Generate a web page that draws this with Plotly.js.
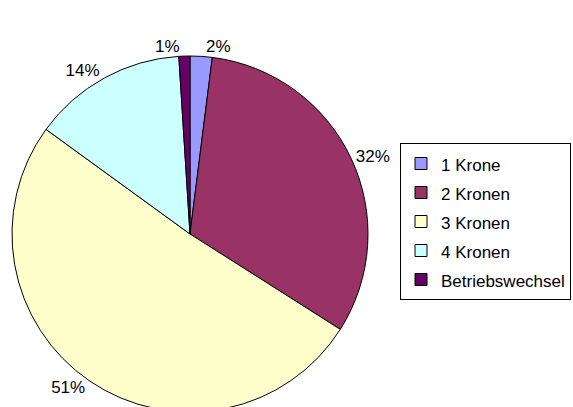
<!DOCTYPE html>
<html>
<head>
<meta charset="utf-8">
<script src="https://cdn.plot.ly/plotly-3.0.1.min.js"></script>
<style>
html,body{margin:0;padding:0;overflow:hidden;background:#fff;}
#chart{width:573px;height:430px;}
</style>
</head>
<body>
<div id="chart"></div>
<script>
const categories = ["1 Krone", "2 Kronen", "3 Kronen", "4 Kronen", "Betriebswechsel"];
const shares = [2, 32, 51, 14, 1];
const sliceColors = ["#9999FF", "#993366", "#FFFFCC", "#CCFFFF", "#660066"];

const W = 573, H = 430;
const legendLabels = categories.map(c => '<span style="font-size:17px">' + c + '</span>');

const trace = {
  type: 'pie',
  labels: legendLabels,
  values: shares,
  sort: false,
  direction: 'clockwise',
  rotation: 0,
  marker: {colors: sliceColors, line: {color: '#000', width: 1}},
  textposition: 'outside',
  texttemplate: '%{percent:.0%}',
  textfont: {family: 'Liberation Sans, Arial, sans-serif', size: 17, color: '#000'},
  outsidetextfont: {family: 'Liberation Sans, Arial, sans-serif', size: 17, color: '#000'},
  hoverinfo: 'none',
  domain: {x: [12 / W, 368 / W], y: [1 - 412 / H, 1 - 56 / H]}
};

const layout = {
  width: W, height: H,
  margin: {l: 0, r: 0, t: 0, b: 0},
  paper_bgcolor: '#fff',
  showlegend: true,
  legend: {
    x: 400 / W, y: 1 - 143 / H, xanchor: 'left', yanchor: 'top',
    font: {family: 'Liberation Sans, Arial, sans-serif', size: 20, color: '#000'},
    bordercolor: '#000', borderwidth: 1, bgcolor: '#fff',
    itemwidth: 30
  }
};

Plotly.newPlot('chart', [trace], layout, {displayModeBar: false, staticPlot: true});
</script>
</body>
</html>
